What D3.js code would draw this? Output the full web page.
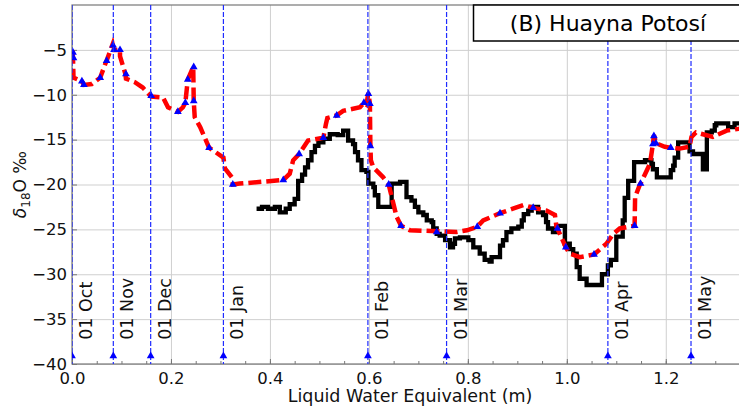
<!DOCTYPE html>
<html lang="en">
<head>
<meta charset="UTF-8">
<title>Huayna Potosi d18O</title>
<script src="https://d3js.org/d3.v7.min.js"></script>
<style>
  body { margin: 0; background: #fff; }
  text { font-family: "DejaVu Sans", sans-serif; }
</style>
</head>
<body>
<script>
// month markers (LWE position of the 1st of each month)
const monthLabels = ["01 Oct", "01 Nov", "01 Dec", "01 Jan", "01 Feb", "01 Mar", "01 Apr", "01 May"];
const monthLwe = [0.0, 0.0835, 0.159, 0.306, 0.598, 0.757, 1.083, 1.251];

// observed snow-pit profile (black step line)
const obsLwe = [0.373, 0.384, 0.396, 0.410, 0.420, 0.432, 0.440, 0.450, 0.457, 0.465, 0.471, 0.477, 0.484,
  0.491, 0.498, 0.508, 0.521, 0.537, 0.548, 0.558, 0.568, 0.572, 0.578, 0.585, 0.595, 0.599, 0.609, 0.612,
  0.619, 0.646, 0.663, 0.676, 0.686, 0.693, 0.700, 0.710, 0.717, 0.727, 0.730, 0.737, 0.743, 0.754, 0.764,
  0.770, 0.774, 0.784, 0.801, 0.811, 0.824, 0.834, 0.844, 0.848, 0.865, 0.871, 0.878, 0.888, 0.902, 0.909,
  0.913, 0.922, 0.929, 0.942, 0.952, 0.958, 0.962, 0.972, 0.979, 0.996, 1.006, 1.013, 1.020, 1.026, 1.040,
  1.071, 1.083, 1.089, 1.100, 1.113, 1.117, 1.124, 1.136, 1.158, 1.171, 1.174, 1.182, 1.210, 1.215, 1.218,
  1.225, 1.248, 1.255, 1.275, 1.283, 1.293, 1.299, 1.302, 1.326, 1.339, 1.360];
const obsD18O = [-22.7, -22.5, -22.7, -22.5, -23.1, -22.7, -22.2, -21.6, -19.6, -18.9, -18.1, -17.3, -16.4,
  -15.7, -15.3, -14.9, -14.4, -14.5, -14.0, -15.1, -15.5, -16.4, -17.3, -18.4, -18.6, -19.9, -20.3, -21.2,
  -22.5, -19.9, -19.7, -21.4, -21.8, -22.5, -23.1, -23.4, -24.0, -24.2, -24.9, -25.5, -25.7, -26.2, -27.0,
  -26.6, -26.0, -25.9, -26.2, -27.0, -27.7, -28.4, -28.6, -28.1, -26.8, -26.2, -25.3, -24.9, -24.7, -24.0,
  -23.3, -22.9, -22.5, -23.1, -23.4, -24.2, -24.9, -25.3, -24.6, -26.6, -27.2, -27.7, -29.2, -30.5, -31.2,
  -30.0, -29.0, -28.4, -25.8, -24.0, -21.5, -19.6, -17.5, -17.3, -17.7, -18.3, -19.2, -18.4, -17.9, -17.0,
  -15.3, -16.3, -16.6, -18.3, -14.2, -14.0, -13.4, -13.2, -13.6, -13.2, -13.2];

// modelled profile (red dashed line)
const modLwe = [0.001, 0.002, 0.003, 0.016, 0.020, 0.024, 0.040, 0.057, 0.067, 0.070, 0.082, 0.083, 0.085,
  0.097, 0.097, 0.108, 0.109, 0.127, 0.143, 0.160, 0.184, 0.194, 0.214, 0.224, 0.229, 0.234, 0.245, 0.246,
  0.248, 0.259, 0.277, 0.306, 0.309, 0.323, 0.325, 0.339, 0.427, 0.440, 0.447, 0.459, 0.477, 0.508, 0.513,
  0.516, 0.535, 0.548, 0.582, 0.590, 0.595, 0.599, 0.602, 0.603, 0.604, 0.609, 0.629, 0.640, 0.656, 0.665,
  0.683, 0.737, 0.777, 0.798, 0.819, 0.831, 0.865, 0.891, 0.912, 0.932, 0.959, 0.976, 0.979, 0.981, 0.998,
  1.006, 1.026, 1.055, 1.080, 1.094, 1.107, 1.137, 1.138, 1.147, 1.149, 1.168, 1.174, 1.176, 1.180, 1.198,
  1.210, 1.228, 1.248, 1.252, 1.261, 1.275, 1.295, 1.323, 1.347, 1.360];
const modD18O = [-5.1, -5.9, -8.1, -8.4, -8.5, -8.9, -8.8, -8.1, -6.6, -6.2, -4.4, -4.7, -5.0,
  -5.0, -5.7, -7.7, -8.2, -8.6, -9.2, -10.2, -10.3, -11.4, -11.9, -11.4, -10.9, -8.3, -6.9, -10.7,
  -12.5, -13.6, -15.9, -17.0, -18.2, -19.2, -20.0, -19.9, -19.5, -18.8, -17.3, -16.6, -15.1, -14.8, -13.3,
  -12.6, -12.3, -11.8, -11.4, -10.9, -11.1, -9.8, -11.0, -15.7, -17.3, -18.1, -19.2, -20.0, -23.6, -24.6,
  -25.1, -25.2, -25.3, -25.1, -24.7, -24.0, -23.2, -22.7, -22.3, -22.6, -22.9, -23.4, -24.7, -24.9, -27.0,
  -27.7, -28.1, -27.8, -26.6, -25.5, -24.9, -24.6, -21.4, -20.1, -19.9, -17.7, -15.5, -14.5, -15.4, -15.8,
  -15.9, -16.0, -15.8, -14.7, -14.2, -14.4, -14.7, -14.0, -13.8, -13.7];

// precipitation-event markers (blue triangles)
const evtLwe = [0.002, 0.003, 0.020, 0.024, 0.057, 0.070, 0.083, 0.085, 0.097, 0.109, 0.160, 0.214, 0.229,
  0.234, 0.246, 0.246, 0.277, 0.325, 0.427, 0.459, 0.508, 0.535, 0.590, 0.599, 0.602, 0.603, 0.640, 0.665,
  0.737, 0.819, 0.865, 0.932, 0.981, 0.998, 1.055, 1.137, 1.149, 1.174, 1.176, 1.180, 1.210];
const evtD18O = [-5.3, -5.9, -8.5, -8.9, -8.1, -6.2, -4.5, -5.0, -5.0, -7.7, -10.1, -11.9, -10.9,
  -8.3, -6.9, -10.7, -15.9, -20.0, -19.5, -16.6, -14.8, -12.3, -10.9, -9.9, -11.0, -15.7, -20.0, -24.6,
  -25.3, -24.7, -23.2, -22.6, -24.9, -27.0, -27.8, -24.6, -19.9, -15.5, -14.6, -15.4, -15.9];

const xTicks = [0, 0.2, 0.4, 0.6, 0.8, 1.0, 1.2];
const xMinorTicks = d3.range(0, 1.36, 0.05);
const yTicks = [-40, -35, -30, -25, -20, -15, -10, -5];

const width = 739, height = 411;
const marginLeft = 72, marginTop = 5, plotRight = 740, plotBottom = 364;

const x = d3.scaleLinear().domain([0, 1.35]).range([marginLeft, plotRight]);
const y = d3.scaleLinear().domain([-40, 0]).range([plotBottom, marginTop]);

const svg = d3.select("body").append("svg")
  .attr("width", width)
  .attr("height", height);

svg.append("defs").append("clipPath").attr("id", "plot")
  .append("rect")
  .attr("x", marginLeft).attr("y", marginTop)
  .attr("width", plotRight - marginLeft).attr("height", plotBottom - marginTop);

// grid
svg.append("g")
  .attr("transform", `translate(0,${plotBottom})`)
  .call(d3.axisBottom(x).tickValues(xTicks).tickSize(-(plotBottom - marginTop)).tickFormat(""))
  .call(g => g.select(".domain").remove())
  .call(g => g.selectAll("line").attr("stroke", "#cfcfcf"));

svg.append("g")
  .attr("transform", `translate(${marginLeft},0)`)
  .call(d3.axisLeft(y).tickValues(yTicks).tickSize(-(plotRight - marginLeft)).tickFormat(""))
  .call(g => g.select(".domain").remove())
  .call(g => g.selectAll("line").attr("stroke", "#cfcfcf"));

// spines
svg.append("rect")
  .attr("x", marginLeft).attr("y", marginTop)
  .attr("width", plotRight - marginLeft).attr("height", plotBottom - marginTop)
  .attr("fill", "none").attr("stroke", "#777").attr("stroke-width", 1.2);

// x axis (inward ticks)
svg.append("g")
  .attr("transform", `translate(0,${plotBottom})`)
  .call(d3.axisBottom(x).tickValues(xMinorTicks).tickSize(-3).tickFormat(""))
  .call(g => g.select(".domain").remove())
  .call(g => g.selectAll("line").attr("stroke", "#777"));

svg.append("g")
  .attr("transform", `translate(0,${plotBottom})`)
  .call(d3.axisBottom(x).tickValues(xTicks).tickSize(-5).tickPadding(8).tickFormat(d3.format(".1f")))
  .call(g => g.select(".domain").remove())
  .call(g => g.selectAll("line").attr("stroke", "#777"))
  .call(g => g.selectAll("text").attr("font-size", 16.5).attr("fill", "#111")
    .attr("font-family", "DejaVu Sans"));

svg.append("g")
  .attr("transform", `translate(${marginLeft},0)`)
  .call(d3.axisLeft(y).tickValues(yTicks).tickSize(-5).tickPadding(5).tickFormat(d3.format("d")))
  .call(g => g.select(".domain").remove())
  .call(g => g.selectAll("line").attr("stroke", "#777"))
  .call(g => g.selectAll("text").attr("font-size", 16.5).attr("fill", "#111")
    .attr("font-family", "DejaVu Sans"));

// curves
const plot = svg.append("g").attr("clip-path", "url(#plot)");

const obs = obsLwe.map((v, i) => [v, obsD18O[i]]);
const mod = modLwe.map((v, i) => [v, modD18O[i]]);
const evt = evtLwe.map((v, i) => [v, evtD18O[i]]);

plot.append("path")
  .datum(obs)
  .attr("fill", "none")
  .attr("stroke", "#000")
  .attr("stroke-width", 4.3)
  .attr("d", d3.line().x(d => x(d[0])).y(d => y(d[1])).curve(d3.curveStepAfter));

plot.append("path")
  .datum(mod)
  .attr("fill", "none")
  .attr("stroke", "#ff0000")
  .attr("stroke-width", 4.5)
  .attr("stroke-dasharray", "13,5")
  .attr("d", d3.line().x(d => x(d[0])).y(d => y(d[1])));

plot.selectAll("path.evt").data(evt).join("path")
  .attr("class", "evt")
  .attr("transform", d => `translate(${x(d[0])},${y(d[1])})`)
  .attr("d", d3.symbol(d3.symbolTriangle, 26))
  .attr("fill", "#0000ff");

// month lines
const months = monthLwe.map((v, i) => ({ lwe: v, label: monthLabels[i] }));

const gm = plot.selectAll("g.month").data(months).join("g")
  .attr("class", "month")
  .attr("transform", d => `translate(${x(d.lwe)},0)`);

gm.append("line")
  .attr("y1", marginTop).attr("y2", plotBottom)
  .attr("stroke", "#1f2bff")
  .attr("stroke-width", 1.2)
  .attr("stroke-dasharray", "5,2");

gm.append("path")
  .attr("transform", `translate(0,${y(-39.1)})`)
  .attr("d", d3.symbol(d3.symbolTriangle, 26))
  .attr("fill", "#0000ff");

svg.selectAll("text.month").data(months).join("text")
  .attr("class", "month")
  .attr("transform", d => `translate(${x(d.lwe) + 20},${y(-37.3)}) rotate(-90)`)
  .attr("font-size", 17.5)
  .attr("fill", "#111")
  .text(d => d.label);

// axis labels
svg.append("text")
  .attr("x", (marginLeft + plotRight) / 2 + 4)
  .attr("y", 402)
  .attr("text-anchor", "middle")
  .attr("font-size", 17.5)
  .attr("fill", "#111")
  .text("Liquid Water Equivalent (m)");

const yl = svg.append("text")
  .attr("transform", `translate(26,${(marginTop + plotBottom) / 2}) rotate(-90)`)
  .attr("text-anchor", "middle")
  .attr("font-size", 17)
  .attr("fill", "#111");
yl.append("tspan").attr("font-style", "italic").text("δ");
yl.append("tspan").attr("font-size", 12).attr("dy", 4).text("18");
yl.append("tspan").attr("dy", -4).text("O ‰");

// title box
svg.append("rect")
  .attr("x", 473.5).attr("y", 5)
  .attr("width", 272).attr("height", 36)
  .attr("fill", "#fff")
  .attr("stroke", "#000")
  .attr("stroke-width", 1.5);

svg.append("text")
  .attr("x", 608).attr("y", 31)
  .attr("text-anchor", "middle")
  .attr("font-family", "Lato, 'Open Sans', sans-serif")
  .attr("font-size", 22)
  .attr("fill", "#000")
  .text("(B) Huayna Potosí");
</script>
</body>
</html>
